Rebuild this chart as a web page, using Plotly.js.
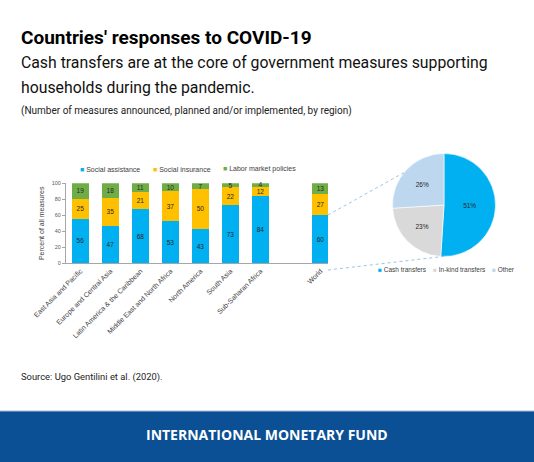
<!DOCTYPE html>
<html>
<head>
<meta charset="utf-8">
<script src="https://cdn.plot.ly/plotly-3.0.1.min.js"></script>
<style>
  html, body { margin: 0; padding: 0; background: #fff; }
  #chart { width: 534px; height: 462px; }
</style>
</head>
<body>
<div id="chart"></div>
<script>
// ---- Data ----
var categories = ["East Asia and Pacific", "Europe and Central Asia", "Latin America & the Caribbean",
  "Middle East and North Africa", "North America", "South Asia", "Sub-Saharan Africa", " ", "World"];
var socialAssistance = [56, 47, 68, 53, 43, 73, 84, null, 60];
var socialInsurance  = [25, 35, 21, 37, 50, 22, 12, null, 27];
var laborMarket      = [19, 18, 11, 10, 7, 5, 4, null, 13];
var barSeriesNames = ["Social assistance", "Social insurance", "Labor market policies"];

var pieLabels = ["Cash transfers", "In-kind transfers", "Other"];
var pieValues = [51, 23, 26];

var yTicks = [0, 20, 40, 60, 80, 100];

// ---- Styles ----
var W = 534, H = 462;
function px(x) { return x / W; }
function py(y) { return 1 - y / H; }
var barColors = ["#00B0F0", "#FFC000", "#70AD47"];
var pieColors = ["#00B0F0", "#D9D9D9", "#BDD7EE"];
var chartFont = "Liberation Sans, Arial, sans-serif";
var titleFont = "Roboto, sans-serif";

function barTrace(name, vals, color) {
  return {
    type: "bar", name: name, x: categories, y: vals,
    marker: { color: color },
    text: vals.map(function (v) { return v === null ? "" : String(v); }),
    textposition: "inside", insidetextanchor: "middle", constraintext: "none", textangle: 0,
    textfont: { family: chartFont, size: 6.5, color: "#262626" },
    hoverinfo: "x+y+name", showlegend: false, cliponaxis: false
  };
}

var data = [
  barTrace(barSeriesNames[0], socialAssistance, barColors[0]),
  barTrace(barSeriesNames[1], socialInsurance, barColors[1]),
  barTrace(barSeriesNames[2], laborMarket, barColors[2]),
  {
    type: "pie", labels: pieLabels, values: pieValues,
    marker: { colors: pieColors, line: { color: "#ffffff", width: 0.6 } },
    sort: false, direction: "clockwise", rotation: 0,
    textinfo: "percent", textposition: "inside", insidetextorientation: "horizontal",
    textfont: { family: chartFont, size: 6.5, color: "#262626" },
    domain: { x: [px(392.5), px(495.5)], y: [py(256.5), py(153.5)] },
    showlegend: false
  }
];

function legendItem(x, y, color, label, size) {
  return {
    xref: "paper", yref: "paper", x: px(x), y: py(y), xanchor: "left", yanchor: "middle",
    showarrow: false, align: "left",
    text: '<span style="color:' + color + '">■</span> ' + label,
    font: { family: chartFont, size: size, color: "#404040" }
  };
}

var annotations = [
  { xref: "paper", yref: "paper", x: px(19), y: py(37), xanchor: "left", yanchor: "middle", showarrow: false,
    text: "Countries' responses to COVID-19", font: { family: titleFont, size: 19, weight: 700, color: "#000" } },
  { xref: "paper", yref: "paper", x: px(19), y: py(63), xanchor: "left", yanchor: "middle", showarrow: false,
    text: "Cash transfers are at the core of government measures supporting", font: { family: titleFont, size: 15.8, color: "#111" } },
  { xref: "paper", yref: "paper", x: px(19), y: py(87), xanchor: "left", yanchor: "middle", showarrow: false,
    text: "households during the pandemic.", font: { family: titleFont, size: 15.8, color: "#111" } },
  { xref: "paper", yref: "paper", x: px(19), y: py(111), xanchor: "left", yanchor: "middle", showarrow: false,
    text: "(Number of measures announced, planned and/or implemented, by region)", font: { family: titleFont, size: 10, color: "#222" } },
  { xref: "paper", yref: "paper", x: px(19), y: py(377), xanchor: "left", yanchor: "middle", showarrow: false,
    text: "Source: Ugo Gentilini et al. (2020).", font: { family: titleFont, size: 9.4, color: "#222" } },
  { xref: "paper", yref: "paper", x: px(267), y: py(434), xanchor: "center", yanchor: "middle", showarrow: false,
    text: "INTERNATIONAL MONETARY FUND", font: { family: "Open Sans, sans-serif", size: 14, weight: 700, color: "#ffffff" } },
  legendItem(78, 169, barColors[0], barSeriesNames[0], 7),
  legendItem(151, 169, barColors[1], barSeriesNames[1], 7),
  legendItem(221, 169, barColors[2], barSeriesNames[2], 7),
  legendItem(376, 269, pieColors[0], pieLabels[0], 6.5),
  legendItem(431, 269, pieColors[1], pieLabels[1], 6.5),
  legendItem(490, 269, pieColors[2], pieLabels[2], 6.5)
];

var shapes = [
  { type: "rect", xref: "paper", yref: "paper", x0: 0, x1: 1, y0: 0, y1: py(411),
    fillcolor: "#0B4F94", line: { width: 0 }, layer: "below" },
  { type: "line", xref: "paper", yref: "paper", x0: 0, x1: 1, y0: py(411), y1: py(411),
    line: { color: "#A9BCD3", width: 1 } },
  { type: "line", xref: "paper", yref: "paper", x0: px(328), y0: py(215), x1: px(405), y1: py(172),
    line: { color: "#9DC3E6", width: 1, dash: "dot" } },
  { type: "line", xref: "paper", yref: "paper", x0: px(328), y0: py(270), x1: px(447), y1: py(256),
    line: { color: "#9DC3E6", width: 1, dash: "dot" } }
];

var layout = {
  width: W, height: H,
  margin: { l: 0, r: 0, t: 0, b: 0 },
  paper_bgcolor: "#ffffff", plot_bgcolor: "rgba(0,0,0,0)",
  barmode: "stack", bargap: 0.43,
  showlegend: false,
  xaxis: {
    type: "category", categoryorder: "array", categoryarray: categories,
    domain: [px(66), px(328)], range: [-0.48, 8.25], fixedrange: true,
    tickangle: -45, tickfont: { family: chartFont, size: 7, color: "#404040" },
    showline: true, linecolor: "#A6A6A6", linewidth: 1, ticks: "", showgrid: false, zeroline: false,
    automargin: false
  },
  yaxis: {
    domain: [py(263.3), py(183.3)], range: [0, 100], tickvals: yTicks, fixedrange: true,
    tickfont: { family: chartFont, size: 5.5, color: "#595959" },
    showline: true, linecolor: "#A6A6A6", linewidth: 1, ticks: "outside", ticklen: 3, tickcolor: "#A6A6A6",
    showgrid: false, zeroline: false, automargin: false,
    title: { text: "Percent of all measures", font: { family: chartFont, size: 7, color: "#404040" }, standoff: 6 }
  },
  annotations: annotations,
  shapes: shapes
};

Plotly.newPlot("chart", data, layout, { displayModeBar: false, staticPlot: true });
</script>
</body>
</html>
